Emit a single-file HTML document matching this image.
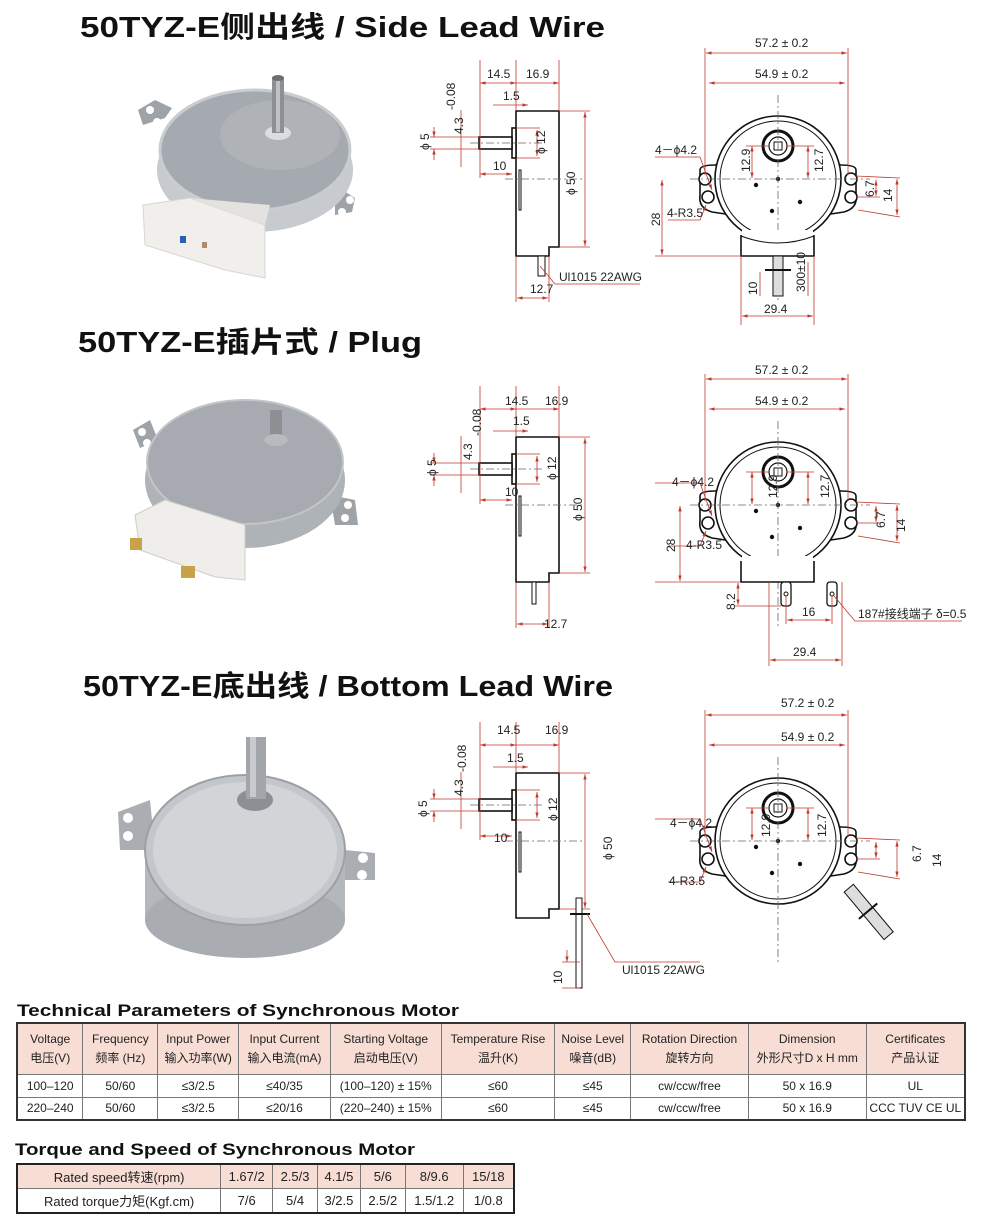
<!DOCTYPE html>
<html><head><meta charset="utf-8"><style>
html,body{margin:0;padding:0;background:#fff;}
svg{display:block;}
.t{font-family:"Liberation Sans","Noto Sans CJK SC",sans-serif;}
.d{font-family:"Liberation Sans","Noto Sans CJK SC",sans-serif;font-size:12px;fill:#222;}
.r{stroke:#c0392b;stroke-width:0.8;fill:none;}
.k{stroke:#111;stroke-width:1.6;fill:none;}
.kw{stroke:#111;stroke-width:1.6;fill:#fff;}
.c{stroke:#666;stroke-width:0.8;stroke-dasharray:8 3 2 3;fill:none;}
table{border-collapse:collapse;position:absolute;font-family:"Liberation Sans","Noto Sans CJK SC",sans-serif;font-size:12px;color:#222;}
td{border:1px solid #777;text-align:center;padding:0;}
</style></head><body>
<div style="position:relative;width:1000px;height:1218px;overflow:hidden;">
<svg width="1000" height="1218" viewBox="0 0 1000 1218" style="position:absolute;left:0;top:0">
<defs>
<marker id="a" viewBox="0 0 10 10" refX="10" refY="5" markerWidth="7" markerHeight="7" orient="auto-start-reverse"><path d="M0,2 L10,5 L0,8 z" fill="#c0392b"/></marker>
<g id="sideShape">
  <path class="k" d="M516,111 H559 V247 H549 V256 H516 Z"/>
  <rect class="kw" x="512" y="128" width="4" height="30"/>
  <rect class="kw" x="479" y="137" width="33" height="12"/>
  <rect class="k" x="519" y="170" width="2" height="40" style="stroke-width:1"/>
  <line class="c" x1="470" y1="143" x2="545" y2="143"/>
  <line class="c" x1="505" y1="179" x2="585" y2="179"/>
</g>
<g id="sideDims">
  <line class="r" x1="480" y1="60" x2="480" y2="178"/>
  <line class="r" x1="516" y1="60" x2="516" y2="111"/>
  <line class="r" x1="559" y1="60" x2="559" y2="111"/>
  <line class="r" x1="480" y1="83" x2="516" y2="83" marker-start="url(#a)" marker-end="url(#a)"/>
  <line class="r" x1="516" y1="83" x2="559" y2="83" marker-end="url(#a)"/>
  <line class="r" x1="493" y1="105" x2="528" y2="105" marker-end="url(#a)"/>
  <line class="r" x1="430" y1="137" x2="479" y2="137"/>
  <line class="r" x1="430" y1="149" x2="479" y2="149"/>
  <line class="r" x1="434" y1="127" x2="434" y2="137" marker-end="url(#a)"/>
  <line class="r" x1="434" y1="160" x2="434" y2="149" marker-end="url(#a)"/>
  <line class="r" x1="461" y1="110" x2="461" y2="167"/>
  <line class="r" x1="516" y1="128" x2="540" y2="128"/>
  <line class="r" x1="516" y1="158" x2="540" y2="158"/>
  <line class="r" x1="537" y1="130" x2="537" y2="156" marker-start="url(#a)" marker-end="url(#a)"/>
  <line class="r" x1="480" y1="174" x2="512" y2="174" marker-start="url(#a)" marker-end="url(#a)"/>
  <line class="r" x1="559" y1="111" x2="590" y2="111"/>
  <line class="r" x1="559" y1="247" x2="590" y2="247"/>
  <line class="r" x1="585" y1="112" x2="585" y2="246" marker-start="url(#a)" marker-end="url(#a)"/>
</g>
<g id="frontShape">
  <path class="kw" d="M700,170 Q700,165 715,165 L732,160 L732,215 L712,212 Q698,208 700,195 Z"/>
  <path class="kw" d="M856,170 Q856,165 841,165 L824,160 L824,215 L844,212 Q858,208 856,195 Z"/>
  <circle class="kw" cx="778" cy="179" r="63"/>
  <circle cx="778" cy="179" r="58" style="stroke:#111;stroke-width:1;fill:none"/>
  <circle class="kw" cx="705" cy="179" r="6"/>
  <circle class="kw" cx="708" cy="197" r="6"/>
  <circle class="kw" cx="851" cy="179" r="6"/>
  <circle class="kw" cx="851" cy="197" r="6"/>
  <circle cx="778" cy="146" r="15" style="stroke:#111;stroke-width:3;fill:#fff"/>
  <circle cx="778" cy="146" r="9" style="stroke:#111;stroke-width:1.2;fill:#fff"/>
  <rect x="774" y="142" width="8" height="8" style="stroke:#111;stroke-width:1;fill:none"/>
  <circle cx="756" cy="185" r="2.2" fill="#111"/><circle cx="778" cy="179" r="2.2" fill="#111"/>
  <circle cx="800" cy="202" r="2.2" fill="#111"/><circle cx="772" cy="211" r="2.2" fill="#111"/>
  <line class="c" x1="778" y1="95" x2="778" y2="300"/>
  <line class="c" x1="690" y1="179" x2="870" y2="179"/>
</g>
<g id="frontDims">
  <line class="r" x1="705" y1="48" x2="705" y2="175"/>
  <line class="r" x1="848" y1="48" x2="848" y2="175"/>
  <line class="r" x1="706" y1="53" x2="847" y2="53" marker-start="url(#a)" marker-end="url(#a)"/>
  <line class="r" x1="709" y1="83" x2="845" y2="83" marker-start="url(#a)" marker-end="url(#a)"/>
  <line class="r" x1="752" y1="146" x2="752" y2="178" marker-start="url(#a)" marker-end="url(#a)"/>
  <line class="r" x1="808" y1="146" x2="808" y2="178" marker-start="url(#a)" marker-end="url(#a)"/>
  <line class="r" x1="746" y1="146" x2="770" y2="146"/>
  <line class="r" x1="786" y1="146" x2="814" y2="146"/>
  <line class="r" x1="856" y1="197" x2="880" y2="197"/>
  <line class="r" x1="876" y1="180" x2="876" y2="196" marker-start="url(#a)" marker-end="url(#a)"/>
  <line class="r" x1="856" y1="176" x2="900" y2="178"/>
  <line class="r" x1="858" y1="210" x2="900" y2="217"/>
  <line class="r" x1="897" y1="179" x2="897" y2="215" marker-start="url(#a)" marker-end="url(#a)"/>
  <line class="r" x1="655" y1="157" x2="700" y2="157"/>
  <line class="r" x1="700" y1="157" x2="712" y2="190" marker-end="url(#a)"/>
  <line class="r" x1="668" y1="220" x2="700" y2="220"/>
  <line class="r" x1="700" y1="220" x2="706" y2="205" marker-end="url(#a)"/>
</g>
</defs>

<text class="t" x="80" y="37" font-size="29" font-weight="bold" fill="#111" textLength="525" lengthAdjust="spacingAndGlyphs">50TYZ-E侧出线 / Side Lead Wire</text>
<text class="t" x="78" y="352" font-size="29" font-weight="bold" fill="#111" textLength="344" lengthAdjust="spacingAndGlyphs">50TYZ-E插片式 / Plug</text>
<text class="t" x="83" y="696" font-size="29" font-weight="bold" fill="#111" textLength="530" lengthAdjust="spacingAndGlyphs">50TYZ-E底出线 / Bottom Lead Wire</text>

<!-- Photo 1 -->
<g>
  <path d="M143,125 L165,118 L172,108 L155,100 L138,110 Z" fill="#9ea3a8"/>
  <circle cx="150" cy="110" r="4" fill="#fff"/><circle cx="157" cy="122" r="4" fill="#fff"/>
  <path d="M335,185 L355,198 L352,212 L335,215 Z" fill="#9ea3a8"/>
  <circle cx="350" cy="200" r="4" fill="#fff"/><circle cx="342" cy="212" r="4" fill="#fff"/>
  <ellipse cx="255" cy="170" rx="98" ry="62" fill="#c7cbd0"/>
  <ellipse cx="255" cy="150" rx="95" ry="60" fill="#a5aab0" stroke="#c9ccd0" stroke-width="3"/>
  <ellipse cx="280" cy="135" rx="60" ry="35" fill="#b5b9be" opacity="0.6"/>
  <ellipse cx="278" cy="133" rx="13" ry="7" fill="#dcdde0"/>
  <rect x="272" y="78" width="12" height="55" fill="#8e8f92"/>
  <rect x="276" y="80" width="4" height="52" fill="#c0c1c4"/>
  <ellipse cx="278" cy="78" rx="6" ry="3" fill="#6d6e70"/>
  <path d="M143,205 L190,198 L265,225 L265,278 L225,270 L145,245 Z" fill="#f0efeb" stroke="#d8d6d0"/>
  <path d="M190,198 L270,205 L265,225 Z" fill="#e3e2de"/>
  <rect x="180" y="236" width="6" height="7" fill="#2d5fb0"/>
  <rect x="202" y="242" width="5" height="6" fill="#b08a6a"/>
</g>
<!-- Photo 2 -->
<g>
  <path d="M133,430 L150,420 L158,440 L140,448 Z" fill="#9ea3a8"/>
  <circle cx="142" cy="432" r="4" fill="#fff"/><circle cx="147" cy="443" r="4" fill="#fff"/>
  <path d="M330,495 L355,500 L358,525 L335,525 Z" fill="#9ea3a8"/>
  <circle cx="348" cy="505" r="4" fill="#fff"/><circle cx="345" cy="518" r="4" fill="#fff"/>
  <ellipse cx="245" cy="480" rx="100" ry="68" fill="#aeb3b8"/>
  <ellipse cx="245" cy="462" rx="98" ry="62" fill="#a7abb1" stroke="#c2c5c8" stroke-width="2"/>
  <rect x="270" y="410" width="12" height="30" fill="#8e8f92"/>
  <ellipse cx="276" cy="440" rx="12" ry="6" fill="#b8babd"/>
  <path d="M135,515 L165,500 L245,525 L245,580 L215,577 L140,550 Z" fill="#efeeea" stroke="#d0cec8"/>
  <rect x="130" y="538" width="12" height="12" fill="#c8a24a"/>
  <rect x="181" y="566" width="14" height="12" fill="#c8a24a"/>
</g>
<!-- Photo 3 -->
<g>
  <path d="M118,812 L150,800 L155,850 L120,850 Z" fill="#aaaeb3"/>
  <circle cx="128" cy="818" r="5" fill="#fff"/><circle cx="128" cy="836" r="5" fill="#fff"/>
  <path d="M345,850 L375,853 L375,880 L345,880 Z" fill="#aaaeb3"/>
  <circle cx="363" cy="858" r="5" fill="#fff"/><circle cx="362" cy="875" r="5" fill="#fff"/>
  <path d="M145,850 L145,920 Q240,990 345,920 L345,850 Z" fill="#b4b8bc"/>
  <ellipse cx="245" cy="920" rx="100" ry="38" fill="#a9adb2"/>
  <ellipse cx="245" cy="850" rx="100" ry="75" fill="#c3c6ca" stroke="#9ca0a5" stroke-width="2"/>
  <ellipse cx="245" cy="850" rx="92" ry="68" fill="#d2d4d7"/>
  <ellipse cx="255" cy="800" rx="18" ry="11" fill="#8c8f93"/>
  <rect x="246" y="737" width="20" height="62" fill="#a2a5a9"/>
  <rect x="250" y="737" width="6" height="60" fill="#c8cacd"/>
</g>

<!-- Section 1 -->
<g>
  <use href="#sideShape"/><use href="#sideDims"/>
  <rect class="kw" x="538" y="256" width="7" height="20" style="stroke-width:1"/>
  <line class="r" x1="516" y1="256" x2="516" y2="302"/><line class="r" x1="549" y1="256" x2="549" y2="302"/>
  <line class="r" x1="517" y1="298" x2="548" y2="298" marker-start="url(#a)" marker-end="url(#a)"/>
  <polyline class="r" points="540,266 555,284 640,284"/>
  <text class="d" x="487" y="78">14.5</text><text class="d" x="526" y="78">16.9</text>
  <text class="d" x="503" y="100">1.5</text><text class="d" x="493" y="170">10</text>
  <text class="d" transform="translate(429,150) rotate(-90)">ϕ 5</text>
  <text class="d" transform="translate(463,134) rotate(-90)">4.3</text><text class="d" font-size="7" transform="translate(455,110) rotate(-90)">-0.08</text>
  <text class="d" transform="translate(545,154) rotate(-90)">ϕ 12</text>
  <text class="d" transform="translate(575,195) rotate(-90)">ϕ 50</text>
  <text class="d" x="530" y="293">12.7</text>
  <text class="d" x="559" y="281" font-size="11">Ul1015 22AWG</text>
  <use href="#frontShape"/>
  <path d="M741,235 V256 H814 V235" style="stroke:#111;stroke-width:1.6;fill:#fff"/>
  <rect x="742" y="230" width="71" height="10" fill="#fff"/>
  <path d="M741,236 Q778,250 814,236" style="stroke:#111;stroke-width:1;fill:none"/>
  <use href="#frontDims"/>
  <rect x="773" y="256" width="10" height="40" style="stroke:#111;stroke-width:1;fill:#ddd"/>
  <line x1="765" y1="270" x2="791" y2="270" stroke="#111" stroke-width="2"/>
  <line class="r" x1="655" y1="256" x2="741" y2="256"/>
  <line class="r" x1="662" y1="180" x2="662" y2="255" marker-start="url(#a)" marker-end="url(#a)"/>
  <line class="r" x1="741" y1="256" x2="741" y2="325"/><line class="r" x1="814" y1="256" x2="814" y2="325"/>
  <line class="r" x1="742" y1="316" x2="813" y2="316" marker-start="url(#a)" marker-end="url(#a)"/>
  <line class="r" x1="760" y1="272" x2="760" y2="296"/><line class="r" x1="808" y1="262" x2="808" y2="296"/>
  <text class="d" x="755" y="47">57.2 ± 0.2</text><text class="d" x="755" y="78">54.9 ± 0.2</text>
  <text class="d" x="655" y="154" font-size="11">4－ϕ4.2</text><text class="d" x="667" y="217" font-size="11">4-R3.5</text>
  <text class="d" transform="translate(660,226) rotate(-90)">28</text>
  <text class="d" x="764" y="313">29.4</text>
  <text class="d" transform="translate(757,295) rotate(-90)">10</text>
  <text class="d" font-size="9" transform="translate(805,292) rotate(-90)">300±10</text>
  <text class="d" font-size="10" transform="translate(750,172) rotate(-90)">12.9</text>
  <text class="d" font-size="10" transform="translate(823,172) rotate(-90)">12.7</text>
  <text class="d" font-size="10" transform="translate(874,197) rotate(-90)">6.7</text>
  <text class="d" font-size="11" transform="translate(892,202) rotate(-90)">14</text>
</g>

<!-- Section 2 -->
<g transform="translate(0,326)">
  <use href="#sideShape"/><use href="#sideDims"/>
  <rect class="kw" x="532" y="256" width="4" height="22" style="stroke-width:1"/>
  <line class="r" x1="516" y1="256" x2="516" y2="302"/><line class="r" x1="549" y1="256" x2="549" y2="302"/>
  <line class="r" x1="517" y1="298" x2="548" y2="298" marker-start="url(#a)" marker-end="url(#a)"/>
  <text class="d" x="505" y="79">14.5</text><text class="d" x="545" y="79">16.9</text>
  <text class="d" x="513" y="99">1.5</text><text class="d" x="505" y="170">10</text>
  <text class="d" transform="translate(436,150) rotate(-90)">ϕ 5</text>
  <text class="d" transform="translate(472,134) rotate(-90)">4.3</text><text class="d" font-size="7" transform="translate(481,110) rotate(-90)">-0.08</text>
  <text class="d" transform="translate(556,154) rotate(-90)">ϕ 12</text>
  <text class="d" transform="translate(582,195) rotate(-90)">ϕ 50</text>
  <text class="d" x="544" y="302">12.7</text>
  <use href="#frontShape"/>
  <path d="M741,235 V256 H814 V235" style="stroke:#111;stroke-width:1.6;fill:#fff"/>
  <rect x="742" y="230" width="71" height="10" fill="#fff"/>
  <rect class="kw" x="781" y="256" width="10" height="24" rx="3" style="stroke-width:1.3"/>
  <rect class="kw" x="827" y="256" width="10" height="24" rx="3" style="stroke-width:1.3"/>
  <circle cx="786" cy="268" r="2" fill="none" stroke="#111"/><circle cx="832" cy="268" r="2" fill="none" stroke="#111"/>
  <use href="#frontDims"/>
  <line class="r" x1="655" y1="256" x2="741" y2="256"/>
  <line class="r" x1="680" y1="180" x2="680" y2="255" marker-start="url(#a)" marker-end="url(#a)"/>
  <line class="r" x1="735" y1="280" x2="781" y2="280"/>
  <line class="r" x1="738" y1="257" x2="738" y2="279" marker-start="url(#a)" marker-end="url(#a)"/>
  <line class="r" x1="786" y1="270" x2="786" y2="298"/><line class="r" x1="832" y1="270" x2="832" y2="298"/>
  <line class="r" x1="787" y1="294" x2="831" y2="294" marker-start="url(#a)" marker-end="url(#a)"/>
  <line class="r" x1="769" y1="256" x2="769" y2="340"/><line class="r" x1="842" y1="256" x2="842" y2="340"/>
  <line class="r" x1="770" y1="334" x2="841" y2="334" marker-start="url(#a)" marker-end="url(#a)"/>
  <polyline class="r" points="834,270 855,295 962,295"/>
  <text class="d" x="755" y="48">57.2 ± 0.2</text><text class="d" x="755" y="79">54.9 ± 0.2</text>
  <text class="d" x="672" y="160" font-size="11">4－ϕ4.2</text><text class="d" x="686" y="223" font-size="11">4-R3.5</text>
  <text class="d" transform="translate(675,226) rotate(-90)">28</text>
  <text class="d" x="793" y="330">29.4</text>
  <text class="d" x="802" y="290">16</text>
  <text class="d" transform="translate(735,284) rotate(-90)">8.2</text>
  <text class="d" x="858" y="292" font-size="11">187#接线端子 δ=0.5</text>
  <text class="d" font-size="10" transform="translate(777,172) rotate(-90)">12.9</text>
  <text class="d" font-size="10" transform="translate(829,172) rotate(-90)">12.7</text>
  <text class="d" font-size="10" transform="translate(885,202) rotate(-90)">6.7</text>
  <text class="d" font-size="11" transform="translate(905,206) rotate(-90)">14</text>
</g>

<!-- Section 3 -->
<g transform="translate(0,662)">
  <use href="#sideShape"/><use href="#sideDims"/>
  <rect class="kw" x="576" y="236" width="6" height="90" style="stroke-width:1"/>
  <line x1="570" y1="252" x2="590" y2="252" stroke="#111" stroke-width="2"/>
  <line class="r" x1="562" y1="300" x2="580" y2="300"/>
  <line class="r" x1="562" y1="326" x2="580" y2="326"/>
  <line class="r" x1="567" y1="288" x2="567" y2="300" marker-end="url(#a)"/>
  <polyline class="r" points="587,252 615,300 700,300"/>
  <text class="d" x="497" y="72">14.5</text><text class="d" x="545" y="72">16.9</text>
  <text class="d" x="507" y="100">1.5</text><text class="d" x="494" y="180">10</text>
  <text class="d" transform="translate(427,155) rotate(-90)">ϕ 5</text>
  <text class="d" transform="translate(463,134) rotate(-90)">4.3</text><text class="d" font-size="7" transform="translate(466,110) rotate(-90)">-0.08</text>
  <text class="d" transform="translate(557,159) rotate(-90)">ϕ 12</text>
  <text class="d" transform="translate(612,198) rotate(-90)">ϕ 50</text>
  <text class="d" transform="translate(562,322) rotate(-90)">10</text>
  <text class="d" x="622" y="312" font-size="11">Ul1015 22AWG</text>
  <use href="#frontShape"/>
  <g transform="rotate(-40 852 230)">
    <rect x="846" y="225" width="12" height="62" style="stroke:#111;stroke-width:1;fill:#ddd"/>
    <line x1="840" y1="255" x2="864" y2="255" stroke="#111" stroke-width="2"/>
  </g>
  <use href="#frontDims"/>
  <text class="d" x="781" y="45">57.2 ± 0.2</text><text class="d" x="781" y="79">54.9 ± 0.2</text>
  <text class="d" x="670" y="165" font-size="11">4－ϕ4.2</text><text class="d" x="669" y="223" font-size="11">4-R3.5</text>
  <text class="d" font-size="10" transform="translate(770,175) rotate(-90)">12.9</text>
  <text class="d" font-size="10" transform="translate(826,175) rotate(-90)">12.7</text>
  <text class="d" font-size="10" transform="translate(921,200) rotate(-90)">6.7</text>
  <text class="d" font-size="11" transform="translate(941,205) rotate(-90)">14</text>
</g>

<text class="t" x="17" y="1016" font-size="17" font-weight="bold" fill="#111" textLength="442" lengthAdjust="spacingAndGlyphs">Technical Parameters of Synchronous Motor</text>
<text class="t" x="15" y="1155" font-size="17" font-weight="bold" fill="#111" textLength="400" lengthAdjust="spacingAndGlyphs">Torque and Speed of Synchronous Motor</text>
</svg>

<table style="left:16px;top:1022px;width:950px;height:98px;border:2px solid #333;">
<colgroup><col style="width:66px"><col style="width:75px"><col style="width:81px"><col style="width:92px"><col style="width:111px"><col style="width:114px"><col style="width:76px"><col style="width:118px"><col style="width:118px"><col style="width:99px"></colgroup>
<tr style="height:51px;background:#f8ddd4;line-height:19px"><td>Voltage<br>电压(V)</td><td>Frequency<br>频率 (Hz)</td><td>Input Power<br>输入功率(W)</td><td>Input Current<br>输入电流(mA)</td><td>Starting Voltage<br>启动电压(V)</td><td>Temperature Rise<br>温升(K)</td><td>Noise Level<br>噪音(dB)</td><td>Rotation Direction<br>旋转方向</td><td>Dimension<br>外形尺寸D x H mm</td><td>Certificates<br>产品认证</td></tr>
<tr style="height:23px"><td>100–120</td><td>50/60</td><td>≤3/2.5</td><td>≤40/35</td><td>(100–120) ± 15%</td><td>≤60</td><td>≤45</td><td>cw/ccw/free</td><td>50 x 16.9</td><td>UL</td></tr>
<tr style="height:23px"><td>220–240</td><td>50/60</td><td>≤3/2.5</td><td>≤20/16</td><td>(220–240) ± 15%</td><td>≤60</td><td>≤45</td><td>cw/ccw/free</td><td>50 x 16.9</td><td>CCC TUV CE UL</td></tr>
</table>

<table style="left:16px;top:1163px;width:499px;height:51px;border:2px solid #222;font-size:13px">
<colgroup><col style="width:205px"><col style="width:52px"><col style="width:45px"><col style="width:43px"><col style="width:45px"><col style="width:58px"><col style="width:51px"></colgroup>
<tr style="background:#f8ddd4"><td>Rated speed转速(rpm)</td><td>1.67/2</td><td>2.5/3</td><td>4.1/5</td><td>5/6</td><td>8/9.6</td><td>15/18</td></tr>
<tr><td>Rated torque力矩(Kgf.cm)</td><td>7/6</td><td>5/4</td><td>3/2.5</td><td>2.5/2</td><td>1.5/1.2</td><td>1/0.8</td></tr>
</table>
</div>
</body></html>
